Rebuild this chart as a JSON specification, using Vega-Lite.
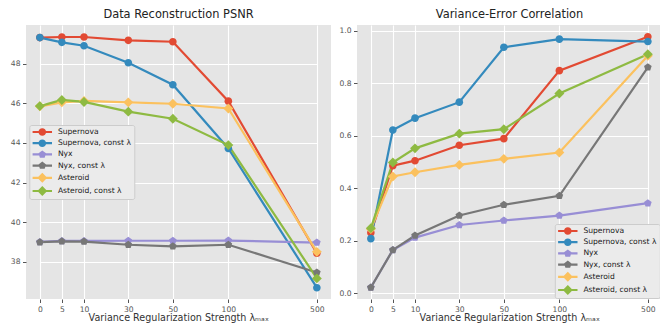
{
  "$schema": "https://vega.github.io/schema/vega-lite/v6.json",
  "padding": {"left": 10, "top": 8, "right": 0, "bottom": 0},
  "background": "#FFFFFF",
  "spacing": 26,
  "bounds": "flush",
  "resolve": {"scale": {"color": "independent", "shape": "independent"}, "legend": {"color": "independent", "shape": "independent"}},
  "datasets": {
    "psnr": [
      {"lambda": 0, "series": "Supernova", "value": 49.32},
      {"lambda": 5, "series": "Supernova", "value": 49.35},
      {"lambda": 10, "series": "Supernova", "value": 49.35},
      {"lambda": 30, "series": "Supernova", "value": 49.18},
      {"lambda": 50, "series": "Supernova", "value": 49.11},
      {"lambda": 100, "series": "Supernova", "value": 46.11},
      {"lambda": 500, "series": "Supernova", "value": 38.43},
      {"lambda": 0, "series": "Supernova, const λ", "value": 49.32},
      {"lambda": 5, "series": "Supernova, const λ", "value": 49.08},
      {"lambda": 10, "series": "Supernova, const λ", "value": 48.91},
      {"lambda": 30, "series": "Supernova, const λ", "value": 48.05},
      {"lambda": 50, "series": "Supernova, const λ", "value": 46.94},
      {"lambda": 100, "series": "Supernova, const λ", "value": 43.72},
      {"lambda": 500, "series": "Supernova, const λ", "value": 36.69},
      {"lambda": 0, "series": "Nyx", "value": 39.0},
      {"lambda": 5, "series": "Nyx", "value": 39.05},
      {"lambda": 10, "series": "Nyx", "value": 39.05},
      {"lambda": 30, "series": "Nyx", "value": 39.06},
      {"lambda": 50, "series": "Nyx", "value": 39.06},
      {"lambda": 100, "series": "Nyx", "value": 39.07},
      {"lambda": 500, "series": "Nyx", "value": 38.97},
      {"lambda": 0, "series": "Nyx, const λ", "value": 38.99},
      {"lambda": 5, "series": "Nyx, const λ", "value": 39.03},
      {"lambda": 10, "series": "Nyx, const λ", "value": 39.02},
      {"lambda": 30, "series": "Nyx, const λ", "value": 38.86},
      {"lambda": 50, "series": "Nyx, const λ", "value": 38.78},
      {"lambda": 100, "series": "Nyx, const λ", "value": 38.86},
      {"lambda": 500, "series": "Nyx, const λ", "value": 37.46},
      {"lambda": 0, "series": "Asteroid", "value": 45.85},
      {"lambda": 5, "series": "Asteroid", "value": 46.05},
      {"lambda": 10, "series": "Asteroid", "value": 46.12},
      {"lambda": 30, "series": "Asteroid", "value": 46.05},
      {"lambda": 50, "series": "Asteroid", "value": 45.98},
      {"lambda": 100, "series": "Asteroid", "value": 45.74},
      {"lambda": 500, "series": "Asteroid", "value": 38.5},
      {"lambda": 0, "series": "Asteroid, const λ", "value": 45.86},
      {"lambda": 5, "series": "Asteroid, const λ", "value": 46.17},
      {"lambda": 10, "series": "Asteroid, const λ", "value": 46.07},
      {"lambda": 30, "series": "Asteroid, const λ", "value": 45.58},
      {"lambda": 50, "series": "Asteroid, const λ", "value": 45.22},
      {"lambda": 100, "series": "Asteroid, const λ", "value": 43.89},
      {"lambda": 500, "series": "Asteroid, const λ", "value": 37.16}
    ],
    "corr": [
      {"lambda": 0, "series": "Supernova", "value": 0.23},
      {"lambda": 5, "series": "Supernova", "value": 0.486},
      {"lambda": 10, "series": "Supernova", "value": 0.505},
      {"lambda": 30, "series": "Supernova", "value": 0.564},
      {"lambda": 50, "series": "Supernova", "value": 0.589},
      {"lambda": 100, "series": "Supernova", "value": 0.848},
      {"lambda": 500, "series": "Supernova", "value": 0.977},
      {"lambda": 0, "series": "Supernova, const λ", "value": 0.208},
      {"lambda": 5, "series": "Supernova, const λ", "value": 0.622},
      {"lambda": 10, "series": "Supernova, const λ", "value": 0.667},
      {"lambda": 30, "series": "Supernova, const λ", "value": 0.728},
      {"lambda": 50, "series": "Supernova, const λ", "value": 0.937},
      {"lambda": 100, "series": "Supernova, const λ", "value": 0.968},
      {"lambda": 500, "series": "Supernova, const λ", "value": 0.959},
      {"lambda": 0, "series": "Nyx", "value": 0.022},
      {"lambda": 5, "series": "Nyx", "value": 0.165},
      {"lambda": 10, "series": "Nyx", "value": 0.212},
      {"lambda": 30, "series": "Nyx", "value": 0.26},
      {"lambda": 50, "series": "Nyx", "value": 0.277},
      {"lambda": 100, "series": "Nyx", "value": 0.296},
      {"lambda": 500, "series": "Nyx", "value": 0.343},
      {"lambda": 0, "series": "Nyx, const λ", "value": 0.022},
      {"lambda": 5, "series": "Nyx, const λ", "value": 0.165},
      {"lambda": 10, "series": "Nyx, const λ", "value": 0.22},
      {"lambda": 30, "series": "Nyx, const λ", "value": 0.296},
      {"lambda": 50, "series": "Nyx, const λ", "value": 0.337},
      {"lambda": 100, "series": "Nyx, const λ", "value": 0.371},
      {"lambda": 500, "series": "Nyx, const λ", "value": 0.861},
      {"lambda": 0, "series": "Asteroid", "value": 0.245},
      {"lambda": 5, "series": "Asteroid", "value": 0.445},
      {"lambda": 10, "series": "Asteroid", "value": 0.461},
      {"lambda": 30, "series": "Asteroid", "value": 0.489},
      {"lambda": 50, "series": "Asteroid", "value": 0.512},
      {"lambda": 100, "series": "Asteroid", "value": 0.536},
      {"lambda": 500, "series": "Asteroid", "value": 0.905},
      {"lambda": 0, "series": "Asteroid, const λ", "value": 0.248},
      {"lambda": 5, "series": "Asteroid, const λ", "value": 0.498},
      {"lambda": 10, "series": "Asteroid, const λ", "value": 0.552},
      {"lambda": 30, "series": "Asteroid, const λ", "value": 0.608},
      {"lambda": 50, "series": "Asteroid, const λ", "value": 0.625},
      {"lambda": 100, "series": "Asteroid, const λ", "value": 0.761},
      {"lambda": 500, "series": "Asteroid, const λ", "value": 0.911}
    ]
  },
  "hconcat": [
    {
      "width": 305,
      "height": 274,
      "title": "Data Reconstruction PSNR",
      "data": {"name": "psnr"},
      "encoding": {
        "x": {"field": "lambda", "type": "quantitative",
          "scale": {"domain": [0, 5, 10, 30, 50, 100, 500], "range": [13.85, 35.85, 58, 102.3, 146.85, 202.35, 290.85], "nice": false, "zero": false},
          "axis": {"values": [0, 5, 10, 30, 50, 100, 500], "format": "d", "labelFlush": false, "labelOverlap": false, "title": "Variance Regularization Strength λₘₐₓ"}},
        "y": {"field": "value", "type": "quantitative",
          "scale": {"domain": [36.12, 49.955], "nice": false, "zero": false},
          "axis": {"values": [38, 40, 42, 44, 46, 48], "format": "d", "title": null}},
        "color": {"field": "series", "type": "nominal",
          "scale": {"domain": ["Supernova", "Supernova, const λ", "Nyx", "Nyx, const λ", "Asteroid", "Asteroid, const λ"], "range": ["#E24A33", "#348ABD", "#988ED5", "#777777", "#FBC15E", "#8EBA42"]},
          "legend": {"orient": "none", "legendX": 3.3, "legendY": 100, "title": null,
            "fillColor": "#EBEBEB", "strokeColor": "#CCCCCC", "cornerRadius": 2, "padding": 3,
            "symbolSize": 58, "symbolStrokeWidth": 0, "symbolOpacity": 1, "symbolOffset": 6, "labelOffset": 11.6, "rowPadding": 3.2,
            "labelFontSize": 7.6, "labelColor": "#222222", "labelFont": "DejaVu Sans", "labelLimit": 300}
        }
      },
      "layer": [
        {
          "mark": {"type": "point", "filled": true, "opacity": 1, "size": 0.01, "strokeWidth": 0},
          "encoding": {
            "shape": {"field": "series", "type": "nominal",
              "scale": {"domain": ["Supernova", "Supernova, const λ", "Nyx", "Nyx, const λ", "Asteroid", "Asteroid, const λ"],
                "range": ["M-2.55,-0.29H2.55V0.29H-2.55Z M1,0A1,1 0 1,1 -1,0A1,1 0 1,1 1,0Z", "M-2.55,-0.29H2.55V0.29H-2.55Z M1,0A1,1 0 1,1 -1,0A1,1 0 1,1 1,0Z", "M-2.55,-0.29H2.55V0.29H-2.55Z M0,-1.05L1,-0.32L0.62,0.85L-0.62,0.85L-1,-0.32Z", "M-2.55,-0.29H2.55V0.29H-2.55Z M0,-1.05L1,-0.32L0.62,0.85L-0.62,0.85L-1,-0.32Z", "M-2.55,-0.29H2.55V0.29H-2.55Z M0,-1.3L1.3,0L0,1.3L-1.3,0Z", "M-2.55,-0.29H2.55V0.29H-2.55Z M0,-1.3L1.3,0L0,1.3L-1.3,0Z"]}}
          }
        },
        {
          "mark": {"type": "line", "strokeWidth": 2.2}
        },
        {
          "mark": {"type": "point", "filled": true, "opacity": 1, "size": 58, "strokeWidth": 0},
          "encoding": {
            "shape": {
              "condition": [
                {"test": "indexof(datum.series, 'Nyx') >= 0", "value": "M0,-1.05L1,-0.32L0.62,0.85L-0.62,0.85L-1,-0.32Z"},
                {"test": "indexof(datum.series, 'Asteroid') >= 0", "value": "M0,-1.3L1.3,0L0,1.3L-1.3,0Z"}
              ],
              "value": "M1,0A1,1 0 1,1 -1,0A1,1 0 1,1 1,0Z"
            }
          }
        }
      ]
    },
    {
      "width": 305,
      "height": 274,
      "title": "Variance-Error Correlation",
      "data": {"name": "corr"},
      "encoding": {
        "x": {"field": "lambda", "type": "quantitative",
          "scale": {"domain": [0, 5, 10, 30, 50, 100, 500], "range": [13.85, 35.85, 58, 102.3, 146.85, 202.35, 290.85], "nice": false, "zero": false},
          "axis": {"values": [0, 5, 10, 30, 50, 100, 500], "format": "d", "labelFlush": false, "labelOverlap": false, "title": "Variance Regularization Strength λₘₐₓ"}},
        "y": {"field": "value", "type": "quantitative",
          "scale": {"domain": [-0.022, 1.022], "nice": false, "zero": false},
          "axis": {"values": [0, 0.2, 0.4, 0.6, 0.8, 1.0], "format": ".1f", "title": null}},
        "color": {"field": "series", "type": "nominal",
          "scale": {"domain": ["Supernova", "Supernova, const λ", "Nyx", "Nyx, const λ", "Asteroid", "Asteroid, const λ"], "range": ["#E24A33", "#348ABD", "#988ED5", "#777777", "#FBC15E", "#8EBA42"]},
          "legend": {"orient": "none", "legendX": 197.8, "legendY": 199, "title": null,
            "fillColor": "#EBEBEB", "strokeColor": "#CCCCCC", "cornerRadius": 2, "padding": 3,
            "symbolSize": 58, "symbolStrokeWidth": 0, "symbolOpacity": 1, "symbolOffset": 6, "labelOffset": 11.6, "rowPadding": 3.2,
            "labelFontSize": 7.6, "labelColor": "#222222", "labelFont": "DejaVu Sans", "labelLimit": 300}
        }
      },
      "layer": [
        {
          "mark": {"type": "point", "filled": true, "opacity": 1, "size": 0.01, "strokeWidth": 0},
          "encoding": {
            "shape": {"field": "series", "type": "nominal",
              "scale": {"domain": ["Supernova", "Supernova, const λ", "Nyx", "Nyx, const λ", "Asteroid", "Asteroid, const λ"],
                "range": ["M-2.55,-0.29H2.55V0.29H-2.55Z M1,0A1,1 0 1,1 -1,0A1,1 0 1,1 1,0Z", "M-2.55,-0.29H2.55V0.29H-2.55Z M1,0A1,1 0 1,1 -1,0A1,1 0 1,1 1,0Z", "M-2.55,-0.29H2.55V0.29H-2.55Z M0,-1.05L1,-0.32L0.62,0.85L-0.62,0.85L-1,-0.32Z", "M-2.55,-0.29H2.55V0.29H-2.55Z M0,-1.05L1,-0.32L0.62,0.85L-0.62,0.85L-1,-0.32Z", "M-2.55,-0.29H2.55V0.29H-2.55Z M0,-1.3L1.3,0L0,1.3L-1.3,0Z", "M-2.55,-0.29H2.55V0.29H-2.55Z M0,-1.3L1.3,0L0,1.3L-1.3,0Z"]}}
          }
        },
        {
          "mark": {"type": "line", "strokeWidth": 2.2}
        },
        {
          "mark": {"type": "point", "filled": true, "opacity": 1, "size": 58, "strokeWidth": 0},
          "encoding": {
            "shape": {
              "condition": [
                {"test": "indexof(datum.series, 'Nyx') >= 0", "value": "M0,-1.05L1,-0.32L0.62,0.85L-0.62,0.85L-1,-0.32Z"},
                {"test": "indexof(datum.series, 'Asteroid') >= 0", "value": "M0,-1.3L1.3,0L0,1.3L-1.3,0Z"}
              ],
              "value": "M1,0A1,1 0 1,1 -1,0A1,1 0 1,1 1,0Z"
            }
          }
        }
      ]
    }
  ],
  "config": {
    "font": "DejaVu Sans",
    "view": {"fill": "#E5E5E5", "stroke": null},
    "axis": {"domain": false, "grid": true, "gridColor": "#FFFFFF", "gridWidth": 1.1, "tickColor": "#555555", "tickSize": 3.5, "tickWidth": 1,
      "labelColor": "#555555", "labelFontSize": 7.6, "labelFont": "DejaVu Sans", "labelPadding": 2.5,
      "titleFont": "DejaVu Sans", "titleFontSize": 9.6, "titleFontWeight": "normal", "titleColor": "#333333", "titlePadding": 0},
    "title": {"font": "DejaVu Sans", "fontSize": 11.4, "fontWeight": "normal", "color": "#222222", "baseline": "alphabetic", "offset": 5}
  }
}
